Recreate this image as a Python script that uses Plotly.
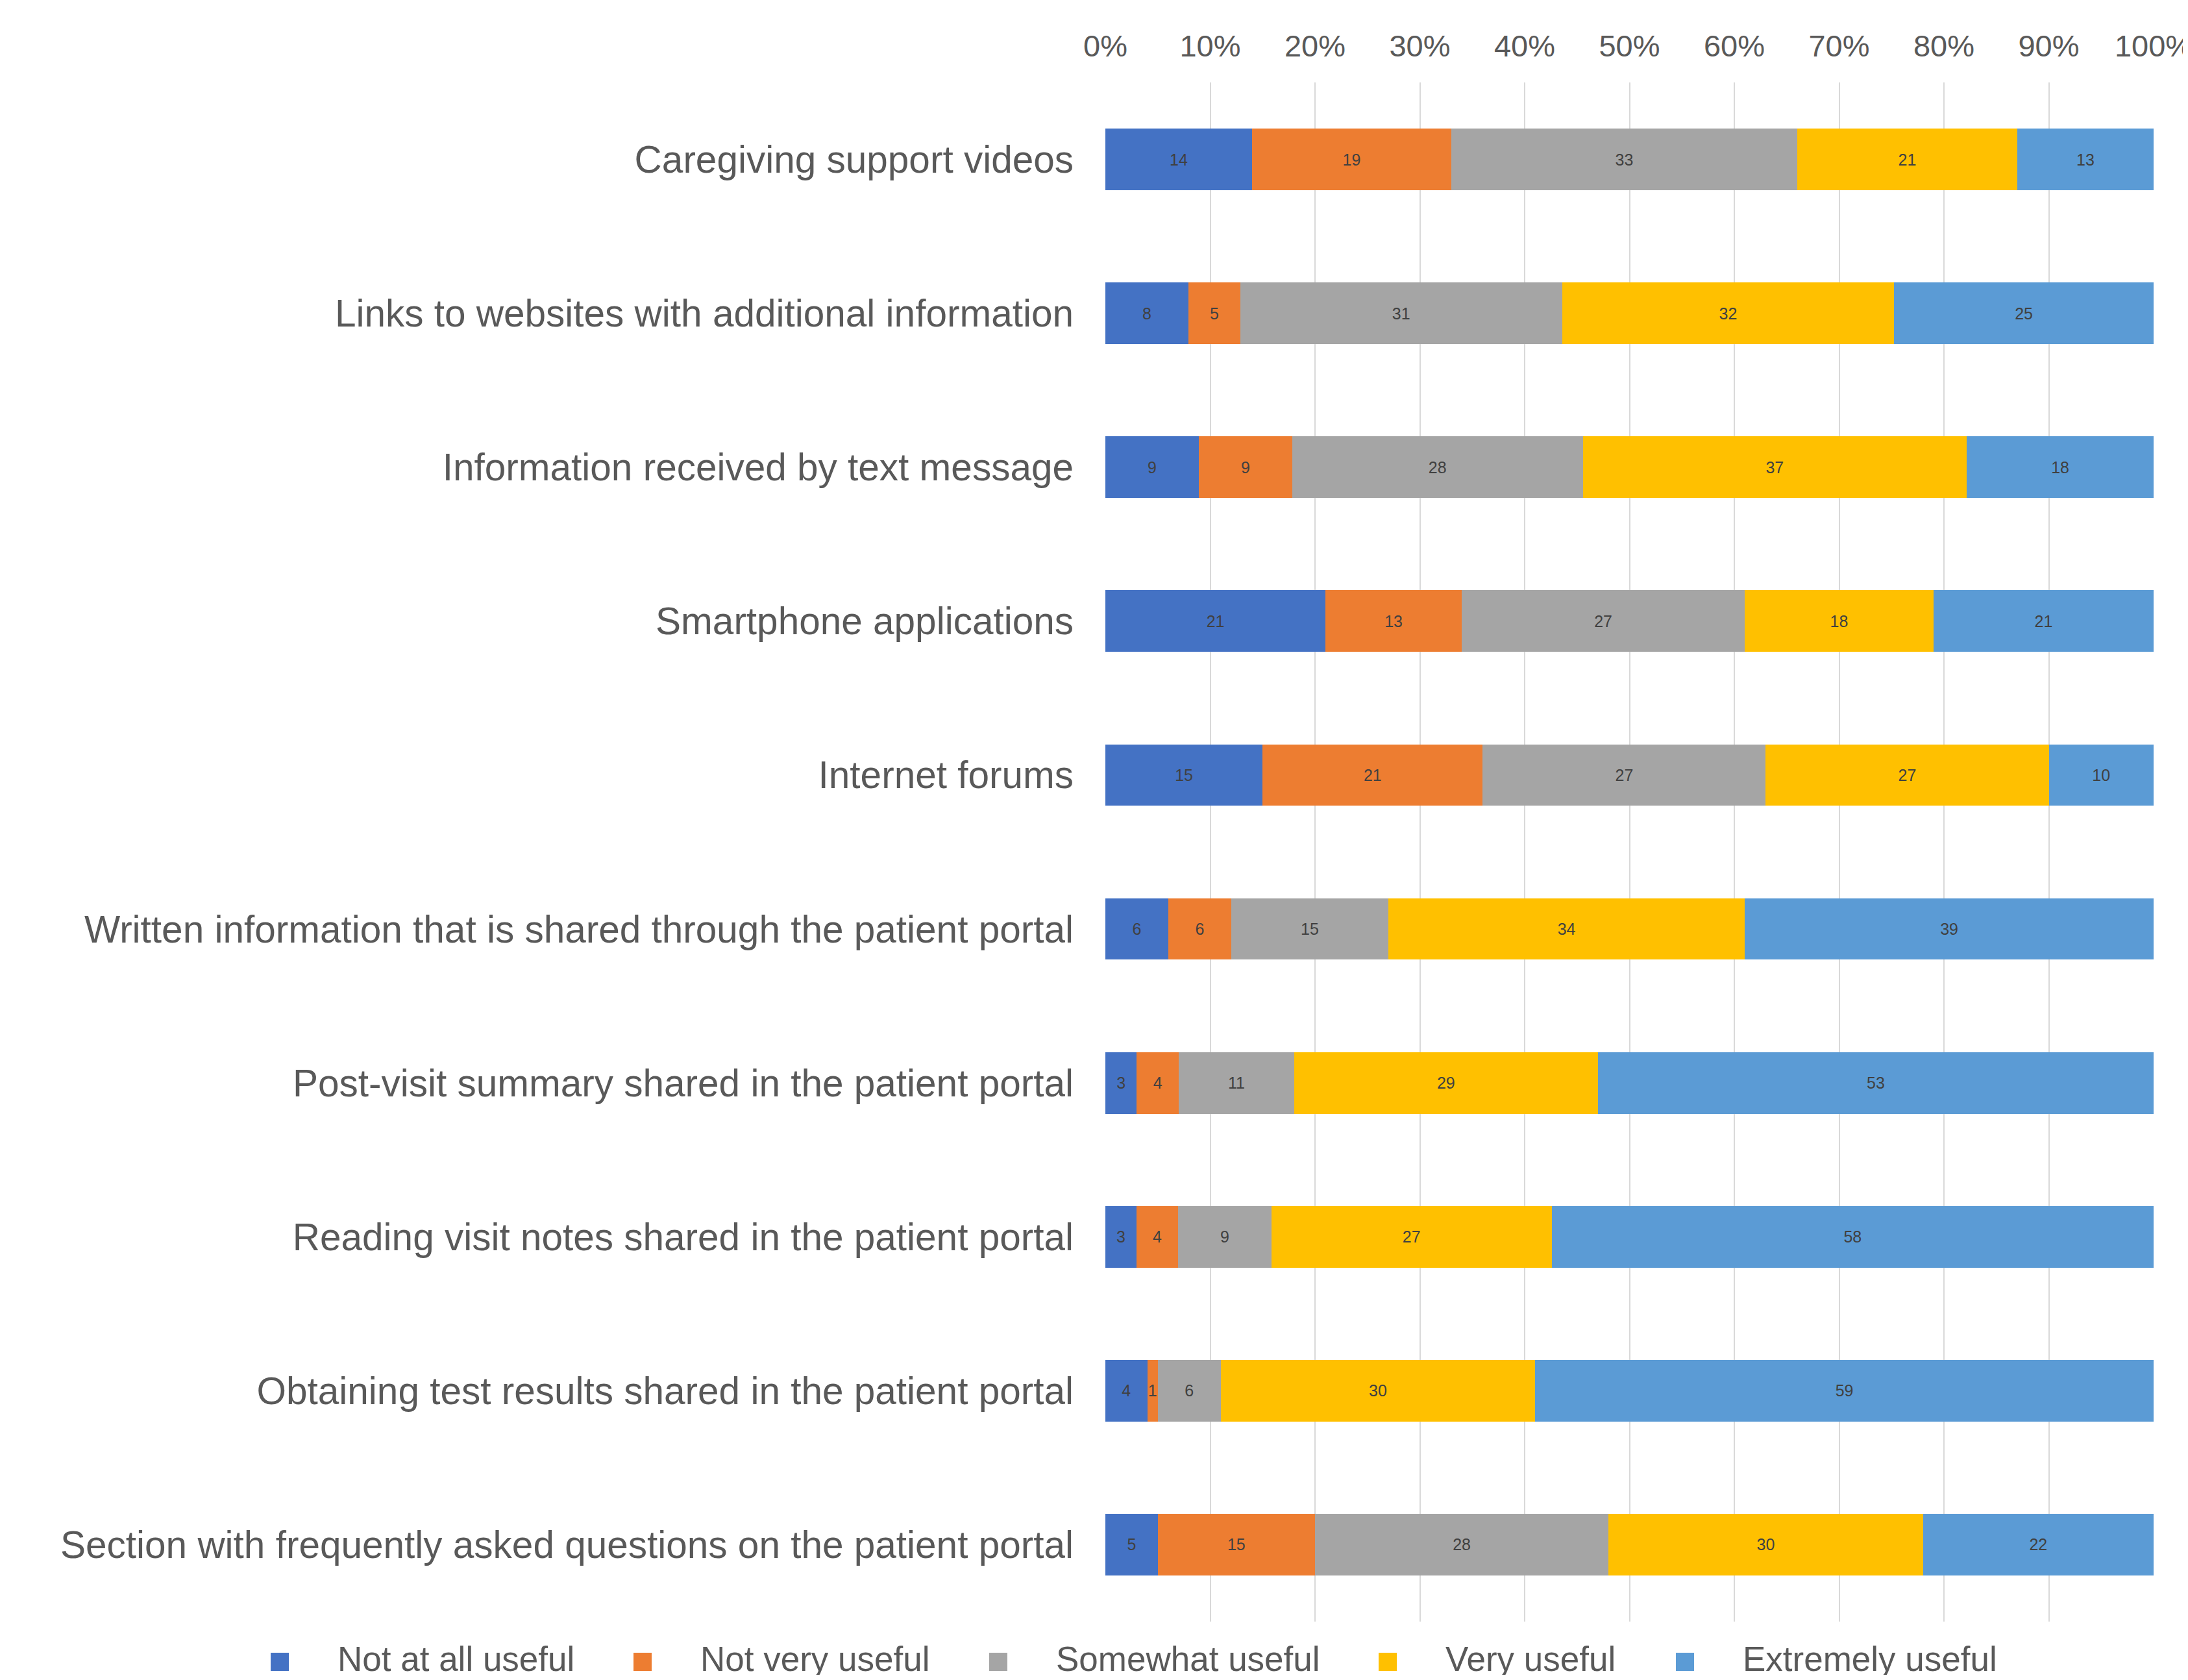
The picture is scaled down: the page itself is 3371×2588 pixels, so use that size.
import plotly.graph_objects as go

categories = [
    "Caregiving support videos",
    "Links to websites with additional information",
    "Information received by text message",
    "Smartphone applications",
    "Internet forums",
    "Written information that is shared through the patient portal",
    "Post-visit summary shared in the patient portal",
    "Reading visit notes shared in the patient portal",
    "Obtaining test results shared in the patient portal",
    "Section with frequently asked questions on the patient portal",
]

series_names = ["Not at all useful", "Not very useful", "Somewhat useful", "Very useful", "Extremely useful"]

not_at_all_useful = [14, 8, 9, 21, 15, 6, 3, 3, 4, 5]
not_very_useful = [19, 5, 9, 13, 21, 6, 4, 4, 1, 15]
somewhat_useful = [33, 31, 28, 27, 27, 15, 11, 9, 6, 28]
very_useful = [21, 32, 37, 18, 27, 34, 29, 27, 30, 30]
extremely_useful = [13, 25, 18, 21, 10, 39, 53, 58, 59, 22]

series_values = [not_at_all_useful, not_very_useful, somewhat_useful, very_useful, extremely_useful]
colors = ["#4472C4", "#ED7D31", "#A5A5A5", "#FFC000", "#5B9BD5"]

x_ticks = list(range(0, 101, 10))
x_tick_labels = [f"{v}%" for v in x_ticks]

FONT = "Liberation Sans, Arial, sans-serif"
OFF = 8  # page body margin offset
W, H = 3371 - 2 * OFF, 2588 - 2 * OFF
L = 1703 - OFF
R = W - (3318 - OFF)
T = 127 - OFF
B = H - (2498 - OFF)
PW, PH = W - L - R, H - T - B

fig = go.Figure()
for name, vals, col in zip(series_names, series_values, colors):
    fig.add_trace(go.Bar(
        y=categories, x=vals, name=name, orientation="h",
        marker=dict(color=col, line=dict(width=0)),
        text=[str(v) for v in vals], textposition="inside",
        insidetextanchor="middle", textangle=0, constraintext="none",
        insidetextfont=dict(size=25, color="#404040", family=FONT),
        showlegend=False,
    ))


def px_x(px):
    return (px - OFF - L) / PW


def px_y(py):
    return (H - B - (py - OFF)) / PH


# legend drawn with larger swatches to match the reference
legend_marker_left = [417, 976, 1524, 2124, 2582]
legend_y = 2560
text_y = 2555
sw = 28
shapes = []
annotations = []
for name, col, mx in zip(series_names, colors, legend_marker_left):
    shapes.append(dict(type="rect", xref="paper", yref="paper",
                       x0=px_x(mx), x1=px_x(mx + sw),
                       y0=px_y(legend_y + sw / 2), y1=px_y(legend_y - sw / 2),
                       fillcolor=col, line=dict(width=0)))
    annotations.append(dict(xref="paper", yref="paper", x=px_x(mx + sw + 73), y=px_y(text_y),
                            text=name, showarrow=False, xanchor="left", yanchor="middle",
                            font=dict(size=53, color="#595959", family=FONT)))

fig.update_layout(
    width=W, height=H,
    barmode="stack", barnorm="percent", bargap=0.6,
    plot_bgcolor="white", paper_bgcolor="white",
    margin=dict(l=L, r=R, t=T, b=B, autoexpand=False),
    font=dict(family=FONT, color="#595959"),
    shapes=shapes, annotations=annotations,
    xaxis=dict(side="top", range=[0, 100], tickvals=x_ticks, ticktext=x_tick_labels,
               showgrid=True, gridcolor="#D9D9D9", gridwidth=2, zeroline=False,
               showline=False, ticks="", ticklabelstandoff=30, ticklabeloverflow="allow",
               tickfont=dict(size=47, color="#595959", family=FONT)),
    yaxis=dict(autorange="reversed", showgrid=False, zeroline=False, showline=False,
               ticks="", ticklabelstandoff=48,
               tickfont=dict(size=58.5, color="#595959", family=FONT)),
)

fig.write_html("out.html")
